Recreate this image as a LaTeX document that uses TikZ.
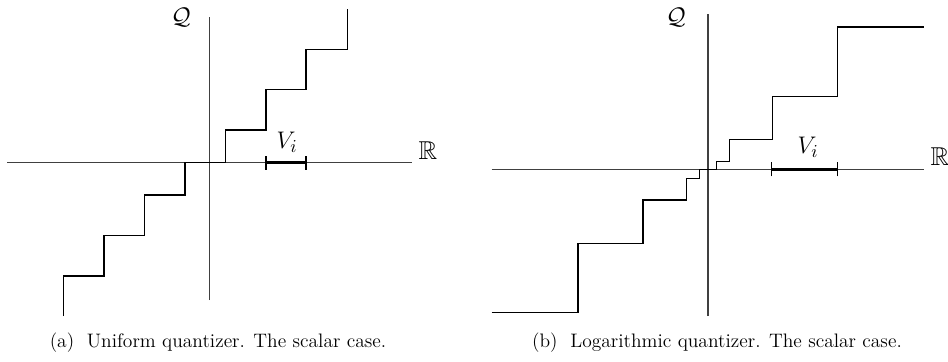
\documentclass[tikz,border=0pt]{standalone}
\usepackage{amssymb}

\begin{document}
\begin{tikzpicture}[x=0.6pt, y=-0.6pt,
        axis/.style={line width=0.7pt, black!75},
        stair/.style={line width=0.7pt, black},
        cell/.style={line width=2pt, black},
        bar/.style={line width=0.7pt, black},
        lbl/.style={font=\fontsize{15.5}{18}\selectfont, inner sep=0pt},
        capt/.style={font=\fontsize{11.7}{14}\selectfont, inner sep=0pt}
    ]
        \useasboundingbox (0,0) rectangle (948,362);

        % (a) Uniform quantizer
        \coordinate (ua-w) at (7,162.7);
        \coordinate (ua-e) at (412,162.7);
        \coordinate (ua-s) at (209.3,300);
        \coordinate (ua-n) at (209.3,17);
        \draw[axis] (ua-w) -- (ua-e);
        \draw[axis] (ua-s) -- (ua-n);
        \draw[stair] (63.3,316) |- (104,276) |- (144.3,235.7) |- (185,195)
            |- (225.7,162.7) |- (266,130) |- (306,89.3) |- (347.3,49.3) -- (347.3,9);
        \coordinate (ua-v0) at (266,162.7);
        \coordinate (ua-v1) at (306,162.7);
        \draw[cell] (ua-v0) -- (ua-v1);
        \draw[bar] ([yshift=-7pt*0.6]ua-v0) -- ([yshift=7pt*0.6]ua-v0);
        \draw[bar] ([yshift=-7pt*0.6]ua-v1) -- ([yshift=7pt*0.6]ua-v1);
        \node[lbl] (ua-vlab) at (287,142) {$V_i$};
        \node[lbl] (ua-q) at (181,17) {$\mathcal{Q}$};
        \node[lbl] (ua-r) at (428,151) {$\mathbb{R}$};
        \node[capt] (ua-cap) at (218,343) {(a)~~Uniform quantizer. The scalar case.};

        % (b) Logarithmic quantizer
        \coordinate (lb-w) at (491.7,169.3);
        \coordinate (lb-e) at (924,169.3);
        \coordinate (lb-s) at (708,316);
        \coordinate (lb-n) at (708,14.3);
        \draw[axis] (lb-w) -- (lb-e);
        \draw[axis] (lb-s) -- (lb-n);
        \draw[stair] (491.7,312.3) -| (578,243.3) -| (643,200) -| (686.3,178.7)
            -| (699.3,169.3) -| (716.3,161.3) -| (729.3,139.3) -| (772.3,96.3)
            -| (837.3,27) -- (924,27);
        \coordinate (lb-v0) at (771.3,169.3);
        \coordinate (lb-v1) at (837.3,169.3);
        \draw[cell] (lb-v0) -- (lb-v1);
        \draw[bar] ([yshift=-7pt*0.6]lb-v0) -- ([yshift=7pt*0.6]lb-v0);
        \draw[bar] ([yshift=-7pt*0.6]lb-v1) -- ([yshift=7pt*0.6]lb-v1);
        \node[lbl] (lb-vlab) at (808,147) {$V_i$};
        \node[lbl] (lb-q) at (676,17) {$\mathcal{Q}$};
        \node[lbl] (lb-r) at (940,157) {$\mathbb{R}$};
        \node[capt] (lb-cap) at (717,343) {(b)~~Logarithmic quantizer. The scalar case.};

    \end{tikzpicture}
\end{document}
